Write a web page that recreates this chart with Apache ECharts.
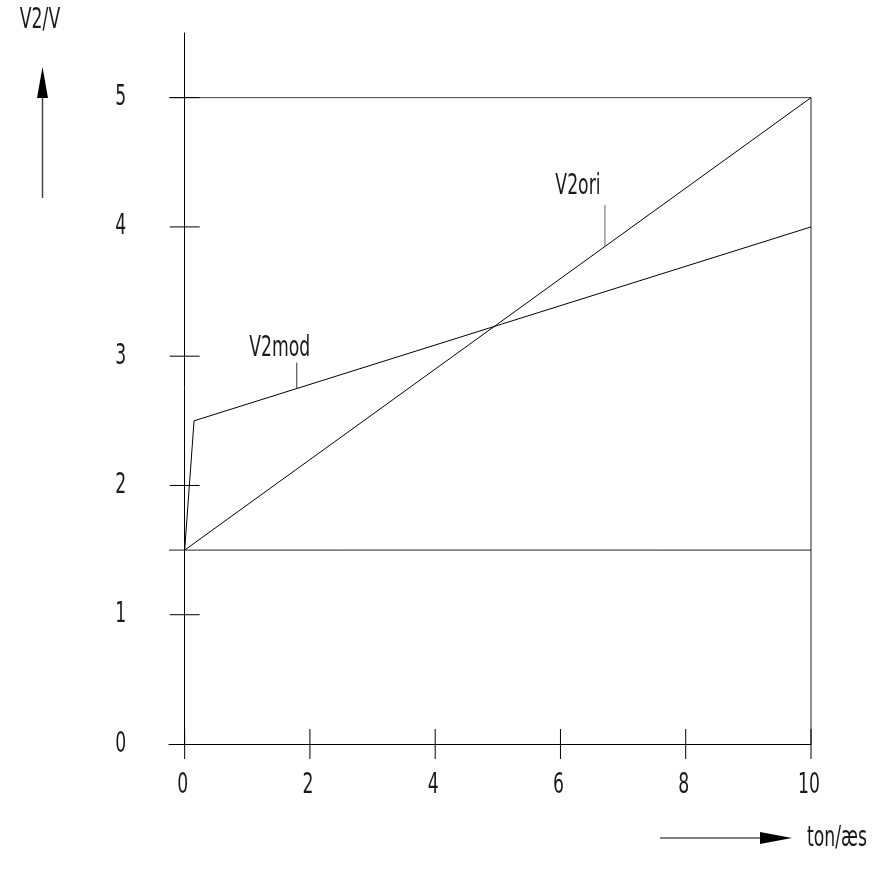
<!DOCTYPE html>
<html><head><meta charset="utf-8">
<script src="https://cdn.jsdelivr.net/npm/echarts@6/dist/echarts.min.js"></script>
<style>html,body{margin:0;padding:0;background:#fff}#c{width:880px;height:874px}</style>
</head><body><div id="c"></div>
<script>
const xTicks = [0, 2, 4, 6, 8, 10];
const yTicks = [0, 1, 2, 3, 4, 5];
const xTickLabels = ['0', '2', '4', '6', '8', '10'];
const yTickLabels = ['0', '1', '2', '3', '4', '5'];
const v2ori = [[0, 1.5], [10, 5]];
const v2mod = [[0, 1.5], [0.15, 2.5], [10, 4]];
const topLine = [[-0.25, 5], [10, 5]];
const baseLine = [[-0.25, 1.5], [10, 1.5]];
const rightLine = [[10, 0], [10, 5]];
const modLeader = [[1.79, 2.75], [1.79, 2.95]];
const oriLeader = [[6.71, 3.85], [6.71, 4.17]];
const curveNames = ['V2mod', 'V2ori'];
const axisNames = ['V2/V', 'ton/æs'];

const FONT_FAMILY = '"DejaVu Sans Condensed","DejaVu Sans",sans-serif';
const FONT = '200 29px ' + FONT_FAMILY;
const SX = 0.66;

const chart = echarts.init(document.getElementById('c'), null, {renderer: 'canvas'});
function seg(data, color) {
  return {type: 'line', data, symbol: 'none', silent: true, animation: false,
    lineStyle: {color: color || '#000', width: 1}, z: 3};
}
function txt(x, y, text) {
  return {type: 'text', x, y, scaleX: SX,
    style: {text, x: 0, y: 0, align: 'center', verticalAlign: 'middle', font: FONT, fill: '#1a1a1a'}};
}
chart.setOption({
  animation: false,
  grid: {left: 169, right: 69, top: 33, bottom: 130, containLabel: false},
  xAxis: {type: 'value', min: -0.25, max: 10,
    axisLine: {show: true, onZero: false, lineStyle: {color: '#000', width: 1}},
    axisTick: {show: false}, splitLine: {show: false}, axisLabel: {show: false}},
  yAxis: {type: 'value', min: 0, max: 5.5,
    axisLine: {show: true, onZero: true, lineStyle: {color: '#000', width: 1}},
    axisTick: {show: false}, splitLine: {show: false}, axisLabel: {show: false}},
  series: [
    seg(topLine, '#444'), seg(baseLine, '#222'), seg(rightLine, '#222'),
    seg(v2ori), seg(v2mod),
    seg(modLeader, '#333'), seg(oriLeader, '#666'),
    {type: 'custom', silent: true, z: 4, data: xTicks.map((v, i) => [v, 0, i]),
      renderItem: (p, api) => {
        const pt = api.coord([api.value(0), api.value(1)]);
        return {type: 'group', children: [
          {type: 'line', shape: {x1: pt[0], y1: pt[1] - 15, x2: pt[0], y2: pt[1] + 15},
            style: {stroke: '#000', lineWidth: 1}},
          txt(pt[0] - 2, pt[1] + 41, xTickLabels[api.value(2)])
        ]};
      }},
    {type: 'custom', silent: true, z: 4, data: yTicks.map((v, i) => [0, v, i]),
      renderItem: (p, api) => {
        const pt = api.coord([api.value(0), api.value(1)]);
        const ch = [txt(pt[0] - 64, pt[1], yTickLabels[api.value(2)])];
        if (api.value(1) > 0) ch.push({type: 'line', shape: {x1: pt[0] - 15, y1: pt[1], x2: pt[0] + 15, y2: pt[1]},
          style: {stroke: '#000', lineWidth: 1}});
        return {type: 'group', children: ch};
      }},
    {type: 'custom', silent: true, z: 4, data: [[modLeader[1][0], modLeader[1][1], 0], [oriLeader[1][0], oriLeader[1][1], 1]],
      renderItem: (p, api) => {
        const pt = api.coord([api.value(0), api.value(1)]);
        const i = api.value(2);
        const off = i === 0 ? [-17, -14] : [-27, -18];
        return txt(pt[0] + off[0], pt[1] + off[1], curveNames[i]);
      }}
  ],
  graphic: [
    txt(40, 20, axisNames[0]),
    {type: 'line', shape: {x1: 42.5, y1: 198, x2: 42.5, y2: 95}, style: {stroke: '#444', lineWidth: 1.5}},
    {type: 'polygon', shape: {points: [[42.5, 67], [37, 98], [48, 98]]}, style: {fill: '#000'}},
    {type: 'line', shape: {x1: 660, y1: 838, x2: 765, y2: 838}, style: {stroke: '#000', lineWidth: 1.2}},
    {type: 'polygon', shape: {points: [[792, 838], [760, 832], [760, 844]]}, style: {fill: '#000'}},
    txt(837, 838, axisNames[1])
  ]
});
</script></body></html>
